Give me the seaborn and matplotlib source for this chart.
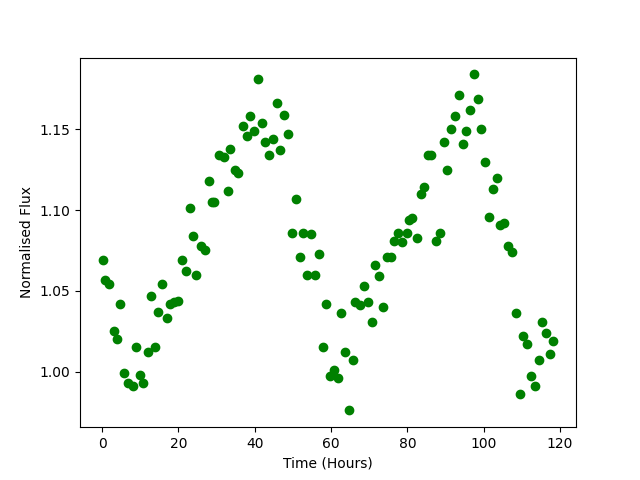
import matplotlib
matplotlib.use('Agg')
import matplotlib.pyplot as plt
import seaborn as sns
import pandas as pd

# time stamps (hours) and normalised flux
time_hours = [0.1, 0.8, 1.9, 3.0, 4.0, 4.8, 5.8, 6.8, 8.0, 9.0,
              9.8, 10.8, 11.9, 12.9, 13.9, 14.7, 15.8, 16.9, 17.9, 18.9,
              19.8, 20.8, 21.9, 22.9, 23.7, 24.7, 25.9, 27.0, 27.9, 28.7,
              29.4, 30.7, 31.9, 32.9, 33.6, 34.7, 35.7, 36.8, 37.9, 38.7,
              39.7, 40.8, 41.8, 42.6, 43.7, 44.7, 45.9, 46.7, 47.6, 48.7,
              49.7, 50.8, 51.8, 52.6, 53.6, 54.8, 55.8, 56.8, 57.8, 58.6,
              59.6, 60.7, 61.7, 62.6, 63.6, 64.7, 65.7, 66.4, 67.5, 68.6,
              69.7, 70.7, 71.5, 72.6, 73.6, 74.7, 75.6, 76.5, 77.5, 78.5,
              79.8, 80.4, 81.2, 82.5, 83.5, 84.4, 85.4, 86.3, 87.5, 88.6,
              89.6, 90.4, 91.5, 92.5, 93.6, 94.6, 95.4, 96.5, 97.5, 98.6,
              99.3, 100.4, 101.4, 102.5, 103.5, 104.3, 105.3, 106.4, 107.5, 108.5,
              109.4, 110.4, 111.4, 112.5, 113.5, 114.4, 115.4, 116.4, 117.5, 118.3]

flux = [1.069, 1.057, 1.054, 1.025, 1.020, 1.042, 0.999, 0.993, 0.991, 1.015,
        0.998, 0.993, 1.012, 1.047, 1.015, 1.037, 1.054, 1.033, 1.042, 1.043,
        1.044, 1.069, 1.062, 1.101, 1.084, 1.060, 1.078, 1.075, 1.118, 1.105,
        1.105, 1.134, 1.133, 1.112, 1.138, 1.125, 1.123, 1.152, 1.146, 1.158,
        1.149, 1.181, 1.154, 1.142, 1.134, 1.144, 1.166, 1.137, 1.159, 1.147,
        1.086, 1.107, 1.071, 1.086, 1.060, 1.085, 1.060, 1.073, 1.015, 1.042,
        0.997, 1.001, 0.996, 1.036, 1.012, 0.976, 1.007, 1.043, 1.041, 1.053,
        1.043, 1.031, 1.066, 1.059, 1.040, 1.071, 1.071, 1.081, 1.086, 1.080,
        1.086, 1.094, 1.095, 1.083, 1.110, 1.114, 1.134, 1.134, 1.081, 1.086,
        1.142, 1.125, 1.150, 1.158, 1.171, 1.141, 1.149, 1.162, 1.184, 1.169,
        1.150, 1.130, 1.096, 1.113, 1.120, 1.091, 1.092, 1.078, 1.074, 1.036,
        0.986, 1.022, 1.017, 0.997, 0.991, 1.007, 1.031, 1.024, 1.011, 1.019]

df = pd.DataFrame({'time': time_hours, 'flux': flux})

fig, ax = plt.subplots(figsize=(6.4, 4.8), dpi=100)

sns.scatterplot(data=df, x='time', y='flux', color='green', edgecolor='green',
                s=36, linewidth=1, ax=ax)

ax.set_xlabel('Time (Hours)')
ax.set_ylabel('Normalised Flux')

plt.savefig('out.png', dpi=100)
